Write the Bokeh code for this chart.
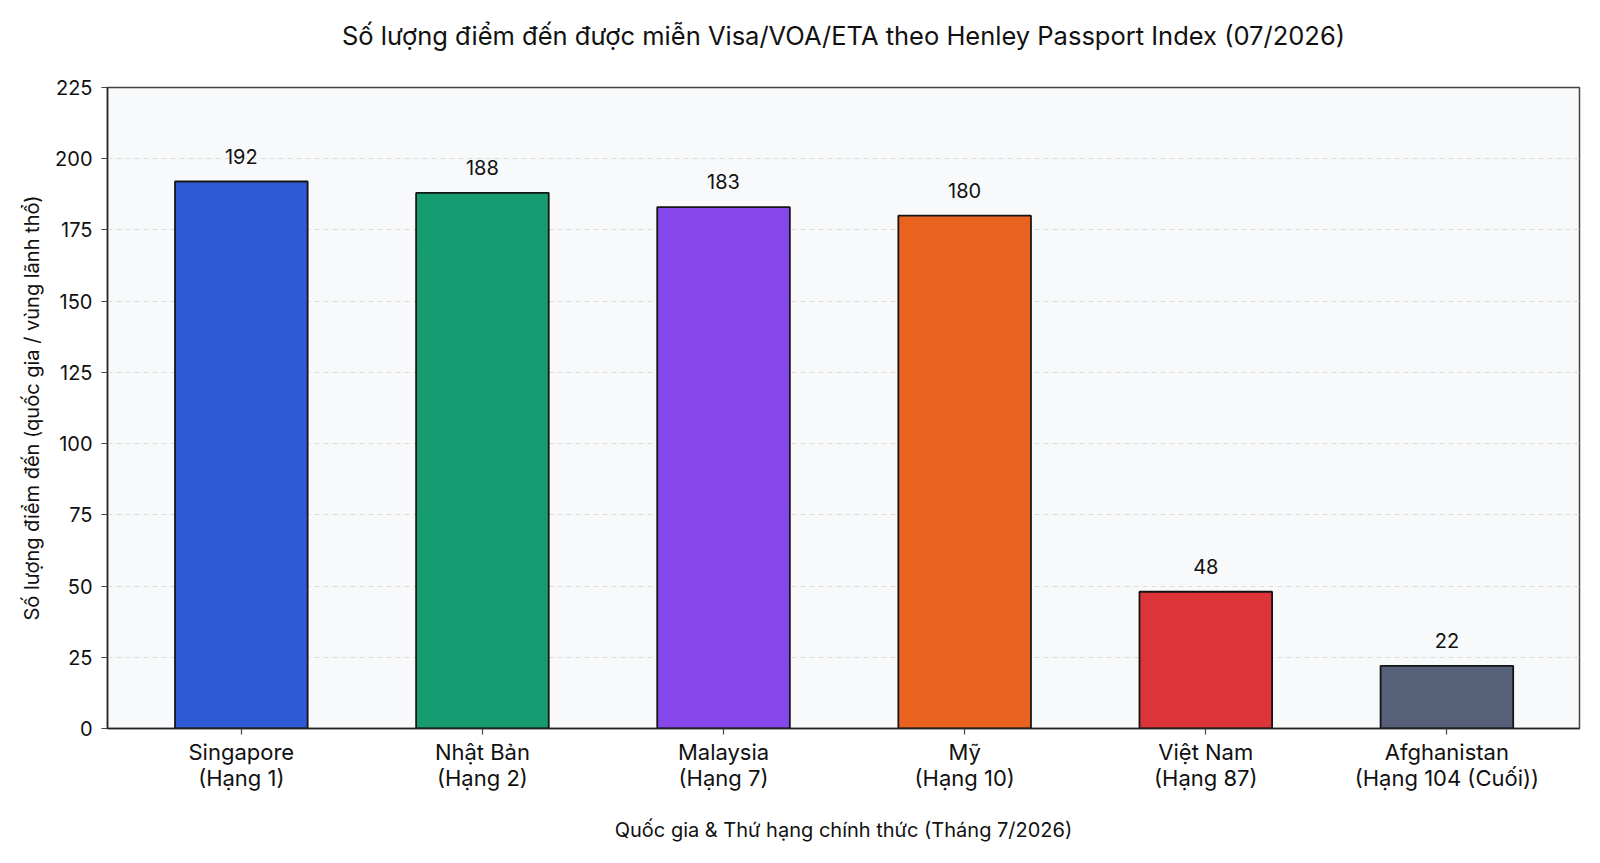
from bokeh.plotting import figure
from bokeh.models import ColumnDataSource, FixedTicker, Range1d, LabelSet
from bokeh.core.properties import value
from bokeh.embed import file_html
from bokeh.resources import INLINE

countries = ["Singapore\n(Hạng 1)", "Nhật Bản\n(Hạng 2)", "Malaysia\n(Hạng 7)",
             "Mỹ\n(Hạng 10)", "Việt Nam\n(Hạng 87)", "Afghanistan\n(Hạng 104 (Cuối))"]
values = [192, 188, 183, 180, 48, 22]
colors = ["#2f5bd8", "#169c70", "#8647ea", "#e9631f", "#dc3439", "#566079"]
y_ticks = [0, 25, 50, 75, 100, 125, 150, 175, 200, 225]

FONT = "Inter"
xs = list(range(len(countries)))
src = ColumnDataSource(dict(x=xs, top=values, color=colors,
                            label=[str(v) for v in values]))

p = figure(width=1600, height=863, output_backend="svg", toolbar_location=None,
           x_range=Range1d(-0.555, 5.55), y_range=Range1d(0, 225),
           title="Số lượng điểm đến được miễn Visa/VOA/ETA theo Henley Passport Index (07/2026)",
           min_border_left=107, min_border_right=21, min_border_top=87, min_border_bottom=135)

p.title.align = "center"
p.title.vertical_align = "top"
p.title.text_font = FONT
p.title.text_font_size = "25.5px"
p.title.text_font_style = "normal"
p.title.text_color = "#111111"
p.title.standoff = 20
p.title.padding = (0, 0, 0, 25)

p.background_fill_color = "#f8f9fa"
p.border_fill_color = "white"
p.outline_line_color = "#444444"
p.outline_line_width = 1.5

p.vbar(x="x", top="top", width=0.55, bottom=0, fill_color="color",
       line_color="#151515", line_width=1.8, source=src)

labels = LabelSet(x="x", y="top", text="label", source=src, y_offset=18,
                  text_align="center", text_baseline="bottom",
                  text_font=value(FONT), text_font_size="20px", text_color="#111111")
p.add_layout(labels)

p.xaxis.ticker = FixedTicker(ticks=xs)
p.xaxis.major_label_overrides = {i: c for i, c in zip(xs, countries)}
p.yaxis.ticker = FixedTicker(ticks=y_ticks)

for ax in (p.xaxis[0], p.yaxis[0]):
    ax.major_label_text_font = FONT
    ax.major_label_text_color = "#111111"
    ax.axis_label_text_font = FONT
    ax.axis_label_text_font_size = "20px"
    ax.axis_label_text_font_style = "normal"
    ax.axis_label_text_color = "#111111"
    ax.axis_line_color = "#222222"
    ax.axis_line_width = 1.5
    ax.major_tick_line_color = "#444444"
    ax.major_tick_line_width = 1.2
    ax.major_tick_in = 0
    ax.major_tick_out = 6
    ax.minor_tick_line_color = None

p.xaxis.major_label_text_font_size = "22px"
p.xaxis.major_label_text_line_height = 1.0
p.yaxis.major_label_text_font_size = "20px"
p.xaxis.axis_label = "Quốc gia & Thứ hạng chính thức (Tháng 7/2026)"
p.yaxis.axis_label = "Số lượng điểm đến (quốc gia / vùng lãnh thổ)"
p.xaxis.major_label_standoff = 4
p.xaxis.axis_label_standoff = 24
p.yaxis.major_label_standoff = 9
p.yaxis.axis_label_standoff = 8

p.xgrid.grid_line_color = None
p.ygrid.grid_line_color = "#dcdcdc"
p.ygrid.grid_line_dash = "5 4"
p.ygrid.grid_line_width = 1

open("out.html", "w").write(file_html(p, INLINE))
